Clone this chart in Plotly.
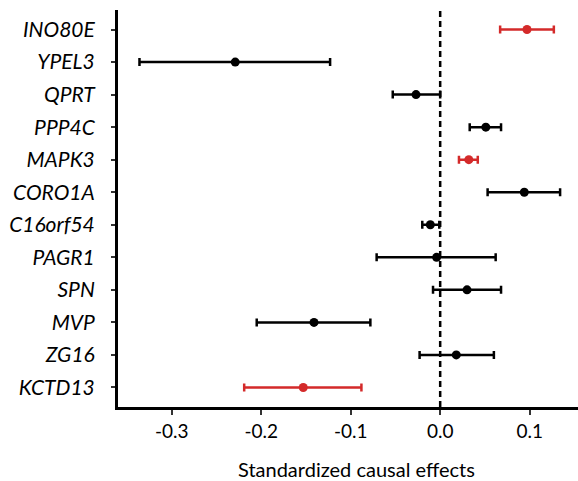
import plotly.graph_objects as go

genes = ["INO80E", "YPEL3", "QPRT", "PPP4C", "MAPK3", "CORO1A",
         "C16orf54", "PAGR1", "SPN", "MVP", "ZG16", "KCTD13"]
effect = [0.097, -0.229, -0.027, 0.051, 0.032, 0.094,
          -0.011, -0.004, 0.030, -0.141, 0.018, -0.153]
lower = [0.067, -0.336, -0.053, 0.033, 0.021, 0.053,
         -0.020, -0.071, -0.008, -0.205, -0.023, -0.219]
upper = [0.127, -0.123, 0.000, 0.068, 0.042, 0.134,
         -0.001, 0.062, 0.068, -0.078, 0.060, -0.088]
highlight = [True, False, False, False, True, False,
             False, False, False, False, False, True]
tick_vals = [-0.3, -0.2, -0.1, 0.0, 0.1]
tick_text = ["-0.3", "-0.2", "-0.1", "0.0", "0.1"]

RED = "#d42a2a"
BLACK = "#000000"
FONT = "Lato"

n = len(genes)
ypos = [n - 1 - i for i in range(n)]

fig = go.Figure()
for grp, col in [(False, BLACK), (True, RED)]:
    idx = [i for i in range(n) if highlight[i] == grp]
    fig.add_trace(go.Scatter(
        x=[effect[i] for i in idx],
        y=[ypos[i] for i in idx],
        mode="markers",
        marker=dict(color=col, size=9),
        error_x=dict(type="data", symmetric=False,
                     array=[upper[i] - effect[i] for i in idx],
                     arrayminus=[effect[i] - lower[i] for i in idx],
                     color=col, thickness=2.5, width=4),
        showlegend=False,
        cliponaxis=False,
    ))

fig.add_shape(type="line", xref="x", yref="paper", x0=0, x1=0, y0=0, y1=1,
              line=dict(color="black", width=2.5, dash="6px,4px"), layer="below")

fig.update_layout(
    width=578, height=481,
    margin=dict(l=118, r=0, t=10, b=74),
    plot_bgcolor="white", paper_bgcolor="white",
    font=dict(family=FONT, color="black"),
    xaxis=dict(range=[-0.36, 0.154], tickvals=tick_vals, ticktext=tick_text,
               showgrid=False, zeroline=False, showline=True, linecolor="black",
               linewidth=3, ticks="outside", ticklen=5, tickwidth=2,
               tickcolor="#333", tickfont=dict(size=19, family=FONT),
               ticklabelstandoff=0),
    yaxis=dict(range=[-0.6, n - 1 + 0.6], tickvals=ypos, ticktext=genes,
               showgrid=False, zeroline=False, showline=True, linecolor="black",
               linewidth=3, ticks="outside", ticklen=4, tickwidth=2,
               tickcolor="#333", ticklabelstandoff=12,
               tickfont=dict(size=21, family=FONT, style="italic")),
    annotations=[dict(text="Standardized causal effects", xref="paper", yref="paper",
                      x=(356.5 - 118) / 460, y=-0.155, xanchor="center", yanchor="middle",
                      showarrow=False, font=dict(size=20, family=FONT))],
)

fig.write_html("out.html")
